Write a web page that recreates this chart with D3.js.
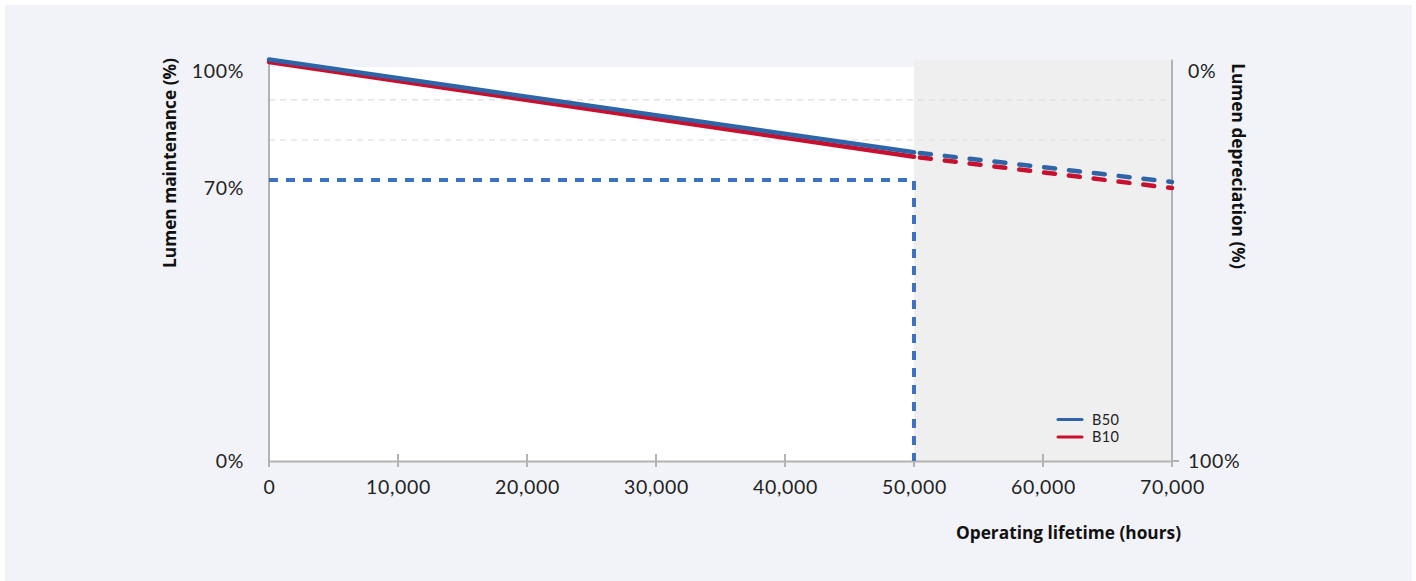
<!DOCTYPE html>
<html>
<head>
<meta charset="utf-8">
<script src="https://cdn.jsdelivr.net/npm/d3@7"></script>
<style>
  html, body { margin: 0; padding: 0; background: #ffffff; }
  svg { display: block; }
  text { font-family: Lato, "Noto Sans", sans-serif; }
  .title { font-family: "Open Sans", "Noto Sans", sans-serif; font-weight: 700; }
</style>
</head>
<body>
<svg id="chart" width="1416" height="581"></svg>
<script>
// ---- data ----
const hours = [0, 50000, 70000];
const b50 = [100, 76.9, 69.5];
const b10 = [99.4, 75.8, 68.0];
const ratedLife = 50000;
const lumenThreshold = 70;
const gridValues = [80, 90];
const xTicks = [0, 10000, 20000, 30000, 40000, 50000, 60000, 70000];
const yLeftTicks = [0, 70, 100];
const yLeftLabels = ["0%", "70%", "100%"];
const yRightLabels = ["100%", "0%"];
const seriesNames = ["B50", "B10"];
const seriesColors = ["#2f65a7", "#c8102e"];

const svg = d3.select("#chart");

// panel background
svg.append("rect").attr("x", 5).attr("y", 5).attr("width", 1407).attr("height", 576).attr("fill", "#f2f3f8");

const x = d3.scaleLinear().domain([0, 70000]).range([269, 1172]);
const y = d3.scaleLinear().domain([0, 100]).range([461, 59.6]);
const yLab = d3.scaleLinear().domain([0, 100]).range([461, 71]);

// white plot area and shaded region
svg.append("rect").attr("x", x(0)).attr("y", 67).attr("width", x(ratedLife) - x(0)).attr("height", y(0) - 67).attr("fill", "#ffffff");
svg.append("rect").attr("x", x(ratedLife)).attr("y", y(100)).attr("width", x(70000) - x(ratedLife)).attr("height", y(0) - y(100)).attr("fill", "#efeff0");

// grid lines
svg.selectAll(".grid").data(gridValues).enter().append("line")
  .attr("x1", x(0)).attr("x2", x(70000))
  .attr("y1", d => y(d)).attr("y2", d => y(d))
  .attr("stroke", "#e2e2e2").attr("stroke-width", 1.3).attr("stroke-dasharray", "6,5");

// axes
const axisColor = "#b3b3b3";
const xAxis = d3.axisBottom(x).tickValues(xTicks).tickSize(0).tickFormat(d3.format(","));
const gx = svg.append("g").attr("transform", `translate(0,${y(0)})`).call(xAxis);
gx.select(".domain").attr("stroke", axisColor).attr("stroke-width", 2);
gx.selectAll(".tick line").remove();
gx.selectAll(".tick text").attr("font-size", 19.5).attr("fill", "#222")
  .attr("letter-spacing", "0.7px").attr("font-family", "Lato, sans-serif")
  .attr("y", 19).attr("dy", "0.71em");
// ticks crossing axis
svg.selectAll(".xt").data(xTicks).enter().append("line")
  .attr("x1", d => x(d)).attr("x2", d => x(d))
  .attr("y1", y(0) - 7).attr("y2", y(0) + 6)
  .attr("stroke", axisColor).attr("stroke-width", 2);

// left axis line
svg.append("line").attr("x1", x(0)).attr("x2", x(0)).attr("y1", y(100) - 1).attr("y2", y(0))
  .attr("stroke", axisColor).attr("stroke-width", 2);
// right axis line
svg.append("line").attr("x1", x(70000)).attr("x2", x(70000)).attr("y1", y(100)).attr("y2", y(0))
  .attr("stroke", axisColor).attr("stroke-width", 2);
svg.append("line").attr("x1", x(70000)).attr("x2", x(70000) + 7).attr("y1", y(0)).attr("y2", y(0))
  .attr("stroke", axisColor).attr("stroke-width", 2);

// left tick labels
svg.selectAll(".yl").data(yLeftTicks).enter().append("text")
  .attr("x", 244).attr("y", d => yLab(d)).attr("dy", "0.36em")
  .attr("text-anchor", "end").attr("font-size", 19.5).attr("fill", "#222")
  .attr("letter-spacing", "0.7px")
  .text((d, i) => yLeftLabels[i]);
// right tick labels
svg.selectAll(".yr").data([0, 100]).enter().append("text")
  .attr("x", 1188).attr("y", d => yLab(d)).attr("dy", "0.36em")
  .attr("text-anchor", "start").attr("font-size", 19.5).attr("fill", "#222")
  .attr("letter-spacing", "0.7px")
  .text((d, i) => yRightLabels[i]);

// axis titles
svg.append("text").attr("class", "title").attr("transform", "translate(176,163) rotate(-90)")
  .attr("text-anchor", "middle").attr("font-size", 17.3).attr("fill", "#111")
  .text("Lumen maintenance (%)");
svg.append("text").attr("class", "title").attr("transform", "translate(1232,166) rotate(90)")
  .attr("text-anchor", "middle").attr("font-size", 17.3).attr("fill", "#111")
  .text("Lumen depreciation (%)");
svg.append("text").attr("class", "title").attr("x", 1181).attr("y", 539)
  .attr("text-anchor", "end").attr("font-size", 17.3).attr("fill", "#111")
  .text("Operating lifetime (hours)");

// 70% threshold dashed line
svg.append("path")
  .attr("d", d3.line()([[x(0), y(lumenThreshold)], [x(ratedLife), y(lumenThreshold)], [x(ratedLife), y(0)]]))
  .attr("fill", "none").attr("stroke", "#3b73c2").attr("stroke-width", 4)
  .attr("stroke-dasharray", "9,8").attr("stroke-linecap", "butt");

// series lines (B10 drawn first so B50 sits on top)
const line = d3.line().x(d => x(d[0])).y(d => y(d[1]));
const series = [b50, b10];
[1, 0].forEach(si => {
  const vals = series[si];
  const pts = hours.map((h, i) => [h, vals[i]]);
  const solid = pts.filter(p => p[0] <= ratedLife);
  const dashed = pts.filter(p => p[0] >= ratedLife);
  svg.append("path").attr("d", line(solid)).attr("fill", "none")
    .attr("stroke", seriesColors[si]).attr("stroke-width", 4.5).attr("stroke-linecap", "round");
  svg.append("path").attr("d", line(dashed)).attr("fill", "none")
    .attr("stroke", seriesColors[si]).attr("stroke-width", 4.5).attr("stroke-linecap", "round")
    .attr("stroke-dasharray", "11,14").attr("stroke-dashoffset", -6);
});

// legend
seriesNames.forEach((name, i) => {
  const ly = 419.5 + i * 17.5;
  svg.append("line").attr("x1", 1058).attr("x2", 1082).attr("y1", ly).attr("y2", ly)
    .attr("stroke", seriesColors[i]).attr("stroke-width", 3).attr("stroke-linecap", "round");
  svg.append("text").attr("x", 1092).attr("y", ly).attr("dy", "0.36em")
    .attr("font-size", 14.5).attr("fill", "#222").attr("letter-spacing", "0.4px").text(name);
});
</script>
</body>
</html>
